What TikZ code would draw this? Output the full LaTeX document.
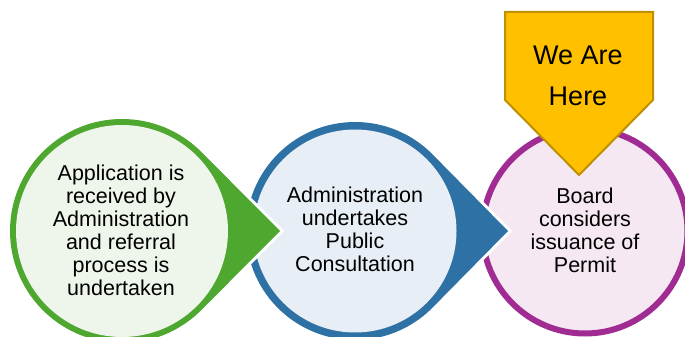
\documentclass[tikz,border=0pt]{standalone}
\usepackage{fontspec}
\setmainfont{Liberation Sans}
\usetikzlibrary{calc}

\definecolor{grn}{HTML}{4EA72E}
\definecolor{grnfill}{HTML}{EEF5EA}
\definecolor{blu}{HTML}{2E71A4}
\definecolor{blufill}{HTML}{E8EEF6}
\definecolor{prp}{HTML}{A02B93}
\definecolor{prpfill}{HTML}{F5E8F3}
\definecolor{ylw}{HTML}{FFC000}
\definecolor{gold}{HTML}{BF9000}

% teardrop: centre, radius, tip
\newcommand{\drop}[4]{%
  \pgfmathsetmacro{\ang}{acos(#2/(#3-#1))}%
  \path[#4] (#3,106) -- ($(#1,106)+(\ang:#2)$)
    arc[start angle=\ang, end angle=360-\ang, radius=#2] -- cycle;}

\begin{document}
\begin{tikzpicture}[x=1pt,y=1pt,
    txt/.style={align=center,font=\fontsize{21.5}{23}\selectfont},
    glow/.style={draw=white,line width=6pt,line join=miter}]
  \useasboundingbox (0,0) rectangle (685,337);

  % purple circle
  \fill[white] (585,106) circle[radius=108];
  \draw[prp,fill=prpfill,line width=6pt] (585,106) circle[radius=102.5];
  \node[txt] (board) at (585,107) {Board\\considers\\issuance of\\Permit};

  % blue step
  \drop{355}{109}{508}{glow}
  \drop{355}{109}{508}{fill=blu}
  \fill[blufill] (355,106) circle[radius=101.5];
  \node[txt] (cons) at (355,108) {Administration\\undertakes\\Public\\Consultation};

  % green step
  \drop{122}{112}{280}{glow}
  \drop{122}{112}{280}{fill=grn}
  \fill[grnfill] (122,106) circle[radius=106];
  \node[txt] (app) at (121,107) {Application is\\received by\\Administration\\and referral\\process is\\undertaken};

  % we are here marker
  \draw[gold,fill=ylw,line width=2pt] (505,325) -- (653,325) -- (653,237)
    -- (579,162) -- (505,237) -- cycle;
  \node[align=center,font=\fontsize{27}{41}\selectfont] (here) at (578,261) {We Are\\Here};
\end{tikzpicture}
\end{document}
